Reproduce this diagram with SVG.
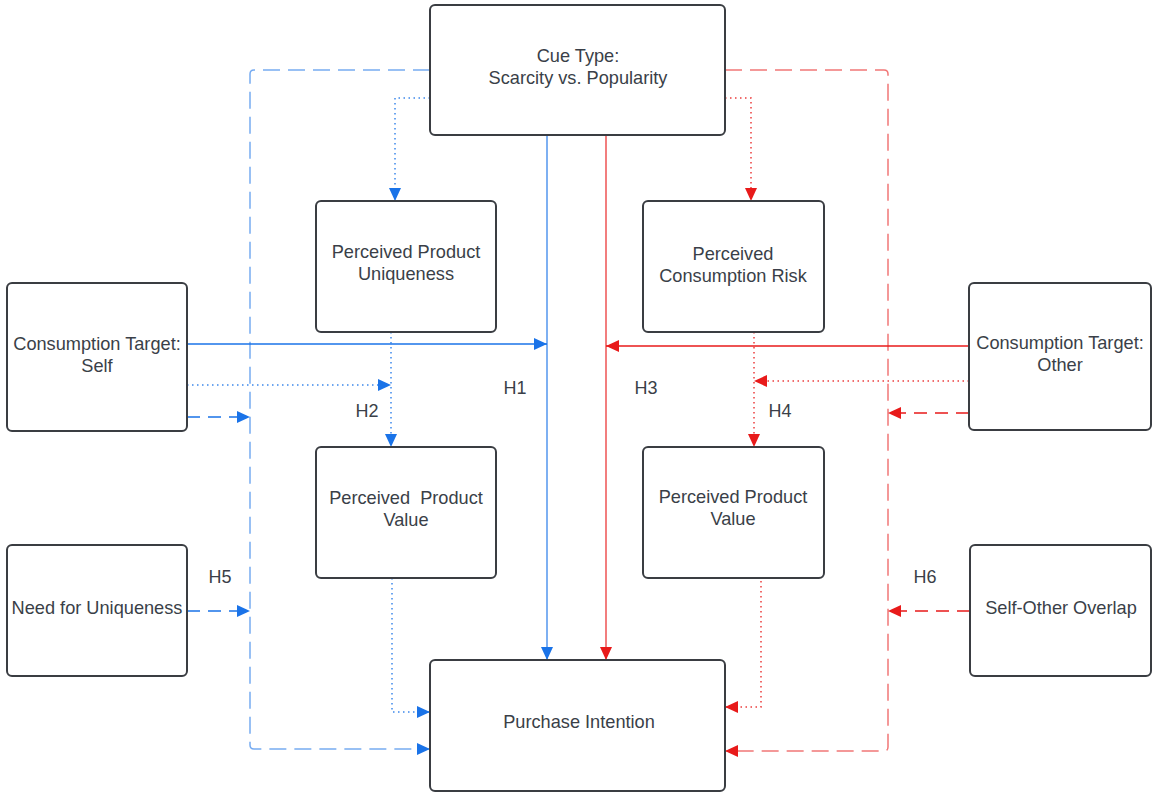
<svg xmlns="http://www.w3.org/2000/svg" width="1153" height="792" viewBox="0 0 1153 792">
<style>
.box{fill:#fff;stroke:#3a3d42;stroke-width:2}
.t{font-family:"Liberation Sans",Arial,sans-serif;font-size:18.2px;fill:#3a3f48;text-anchor:middle;white-space:pre}
.h{font-family:"Liberation Sans",Arial,sans-serif;font-size:18px;fill:#3a3f48;text-anchor:middle}
.c{fill:none;stroke-width:1.5}
.b{stroke:#1a73e8}
.r{stroke:#e81a1a}
.rail{stroke-dasharray:17 8;stroke-opacity:0.6}
.dash{stroke-dasharray:13 8}
.dot{stroke-dasharray:1.5 3.5;stroke-opacity:0.85}
.solid{stroke-opacity:0.75}
</style>
<defs>
<marker id="ab" markerUnits="userSpaceOnUse" markerWidth="14" markerHeight="12" refX="13" refY="6" orient="auto"><path d="M0,0 L13,6 L0,12 Z" fill="#1a73e8"/></marker>
<marker id="ar" markerUnits="userSpaceOnUse" markerWidth="14" markerHeight="12" refX="13" refY="6" orient="auto"><path d="M0,0 L13,6 L0,12 Z" fill="#e81a1a"/></marker>
</defs>
<g id="connectors">
<path class="c b rail" d="M430,70 H254 Q250,70 250,74 V745 Q250,749 254,749 H430" marker-end="url(#ab)"/>
<path class="c b dot" d="M430,98 H395 V201" marker-end="url(#ab)"/>
<path class="c b solid" d="M547,135 V660" marker-end="url(#ab)"/>
<path class="c r solid" d="M606,135 V660" marker-end="url(#ar)"/>
<path class="c r rail" d="M725,70 H884 Q888,70 888,74 V747 Q888,751 884,751 H725" marker-end="url(#ar)"/>
<path class="c r dot" d="M725,98 H751 V201" marker-end="url(#ar)"/>
<path class="c b" d="M187,344 H547" marker-end="url(#ab)"/>
<path class="c b dot" d="M187,385 H391" marker-end="url(#ab)"/>
<path class="c b dash" d="M187,417 H250" marker-end="url(#ab)"/>
<path class="c b dot" d="M391,332 V447" marker-end="url(#ab)"/>
<path class="c r" d="M969,346 H606" marker-end="url(#ar)"/>
<path class="c r dot" d="M969,381 H754" marker-end="url(#ar)"/>
<path class="c r dash" d="M969,413 H888" marker-end="url(#ar)"/>
<path class="c r dot" d="M754,332 V447" marker-end="url(#ar)"/>
<path class="c b dash" d="M187,611 H250" marker-end="url(#ab)"/>
<path class="c b dot" d="M392,578 V712 H430" marker-end="url(#ab)"/>
<path class="c r dash" d="M970,611 H888" marker-end="url(#ar)"/>
<path class="c r dot" d="M761,576 V707 H725" marker-end="url(#ar)"/>
</g>
<g id="labels">
<text class="h" x="515" y="394">H1</text>
<text class="h" x="367" y="417">H2</text>
<text class="h" x="646" y="394">H3</text>
<text class="h" x="780" y="417">H4</text>
<text class="h" x="220" y="583">H5</text>
<text class="h" x="925" y="583">H6</text>
</g>
<g id="cue"><rect class="box" x="430" y="5" width="295" height="130" rx="5"/><text class="t" x="578" y="62">Cue Type:</text><text class="t" x="578" y="84">Scarcity vs. Popularity</text></g>
<g id="uniq"><rect class="box" x="316" y="201" width="180" height="131" rx="5"/><text class="t" x="406" y="258">Perceived Product</text><text class="t" x="406" y="280">Uniqueness</text></g>
<g id="risk"><rect class="box" x="643" y="201" width="181" height="131" rx="5"/><text class="t" x="733" y="260">Perceived</text><text class="t" x="733" y="282">Consumption Risk</text></g>
<g id="self"><rect class="box" x="7" y="283" width="180" height="148" rx="5"/><text class="t" x="97" y="350">Consumption Target:</text><text class="t" x="97" y="372">Self</text></g>
<g id="other"><rect class="box" x="969" y="283" width="182" height="147" rx="5"/><text class="t" x="1060" y="349">Consumption Target:</text><text class="t" x="1060" y="371">Other</text></g>
<g id="valueL"><rect class="box" x="316" y="447" width="180" height="131" rx="5"/><text class="t" x="406" y="504">Perceived  Product</text><text class="t" x="406" y="526">Value</text></g>
<g id="valueR"><rect class="box" x="643" y="447" width="181" height="131" rx="5"/><text class="t" x="733" y="503">Perceived Product</text><text class="t" x="733" y="525">Value</text></g>
<g id="need"><rect class="box" x="7" y="545" width="180" height="131" rx="5"/><text class="t" x="97" y="614">Need for Uniqueness</text></g>
<g id="overlap"><rect class="box" x="970" y="545" width="181" height="131" rx="5"/><text class="t" x="1061" y="614">Self-Other Overlap</text></g>
<g id="purchase"><rect class="box" x="430" y="660" width="295" height="131" rx="5"/><text class="t" x="579" y="728">Purchase Intention</text></g>
</svg>
